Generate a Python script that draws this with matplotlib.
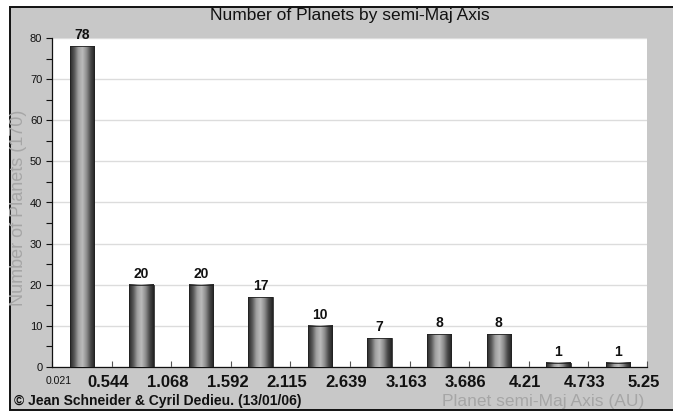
import numpy as np
import matplotlib
matplotlib.use("Agg")
import matplotlib.pyplot as plt
from matplotlib.colors import LinearSegmentedColormap
from matplotlib.patches import Rectangle

# --- data ---
edges = [0.021, 0.544, 1.068, 1.592, 2.115, 2.639, 3.163, 3.686, 4.21, 4.733, 5.25]
edge_labels = ["0.021", "0.544", "1.068", "1.592", "2.115", "2.639",
               "3.163", "3.686", "4.21", "4.733", "5.25"]
counts = [78, 20, 20, 17, 10, 7, 8, 8, 1, 1]
total = 170

title = "Number of Planets by semi-Maj Axis"
ylabel = "Number of Planets (%d)" % total
xlabel = "Planet semi-Maj Axis (AU)"
credit = "\u00a9 Jean Schneider & Cyril Dedieu. (13/01/06)"

narrow = ["Liberation Sans Narrow", "Liberation Sans", "DejaVu Sans"]
plt.rcParams['font.family'] = ["Liberation Sans", "DejaVu Sans"]

fig = plt.figure(figsize=(6.73, 4.11), dpi=100, facecolor='white')

# gray frame (behind the axes)
fig.patches.append(Rectangle((10 / 673, 0.003), 1.0, 0.980, transform=fig.transFigure,
                             facecolor='#c8c8c8', edgecolor='#111111', lw=1.4, zorder=-10))

ax = fig.add_axes([52 / 673, 1 - 367 / 411, (647 - 52) / 673, (367 - 38) / 411])
ax.set_facecolor('white')

# cylinder shading for the bars
shade = LinearSegmentedColormap.from_list(
    "cyl", ["#282828", "#585858", "#a0a0a0", "#bcbcbc", "#8e8e8e", "#4a4a4a", "#222222"])
grad = np.linspace(0, 1, 64).reshape(1, -1)

edges_a = np.array(edges)
centers = (edges_a[:-1] + edges_a[1:]) / 2
widths = (edges_a[1:] - edges_a[:-1]) * 0.41

for c, w, n in zip(centers, widths, counts):
    ax.imshow(grad, extent=(c - w / 2, c + w / 2, 0, n), aspect='auto',
              cmap=shade, zorder=3, interpolation='bilinear')
    ax.add_patch(Rectangle((c - w / 2, 0), w, n, fill=False,
                           edgecolor='#222222', lw=0.6, zorder=4))
    ax.text(c, n + 1.0, str(n), ha='center', va='bottom', fontsize=10,
            fontweight='bold', family=narrow, color='#111111', zorder=5)

ax.set_xlim(edges[0], edges[-1])
ax.set_ylim(0, 80)

ax.set_yticks(np.arange(0, 81, 10))
ax.set_yticks(np.arange(5, 80, 10), minor=True)
ax.yaxis.grid(True, color='#dcdcdc', lw=1.0, zorder=0)
ax.set_axisbelow(True)
ax.tick_params(axis='y', which='both', direction='out', length=4, width=0.8,
               labelsize=8, colors='#111111', pad=3)

ax.set_xticks(edges)
ax.set_xticklabels([])
ax.tick_params(axis='x', direction='in', length=4, width=0.8, colors='#555555')
for x, lab in zip(edges, edge_labels):
    if lab == edge_labels[0]:
        ax.text(x + 0.06, -2.3, lab, ha='center', va='top', fontsize=7.5,
                color='#111111', clip_on=False)
    else:
        ax.text(x - 0.03, -1.9, lab, ha='center', va='top', fontsize=12,
                fontweight='bold', family=narrow, color='#111111', clip_on=False)

for s in ['top', 'right']:
    ax.spines[s].set_visible(False)
for s in ['left', 'bottom']:
    ax.spines[s].set_color('#111111')
    ax.spines[s].set_linewidth(0.9)

fig.text(0.52, 0.962, title, ha='center', va='center', fontsize=12.5, color='#111111')
fig.text(19 / 673, 0.494, ylabel, rotation=90, ha='center', va='center',
         fontsize=13, color='#a6a6a6')
fig.text(644 / 673, 1 - 401 / 411, xlabel, ha='right', va='center',
         fontsize=12.5, color='#a6a6a6')
fig.text(14 / 673, 1 - 401 / 411, credit, ha='left', va='center',
         fontsize=10, fontweight='bold', family=narrow, color='#111111')

fig.savefig("out.png", dpi=100, facecolor=fig.get_facecolor())
